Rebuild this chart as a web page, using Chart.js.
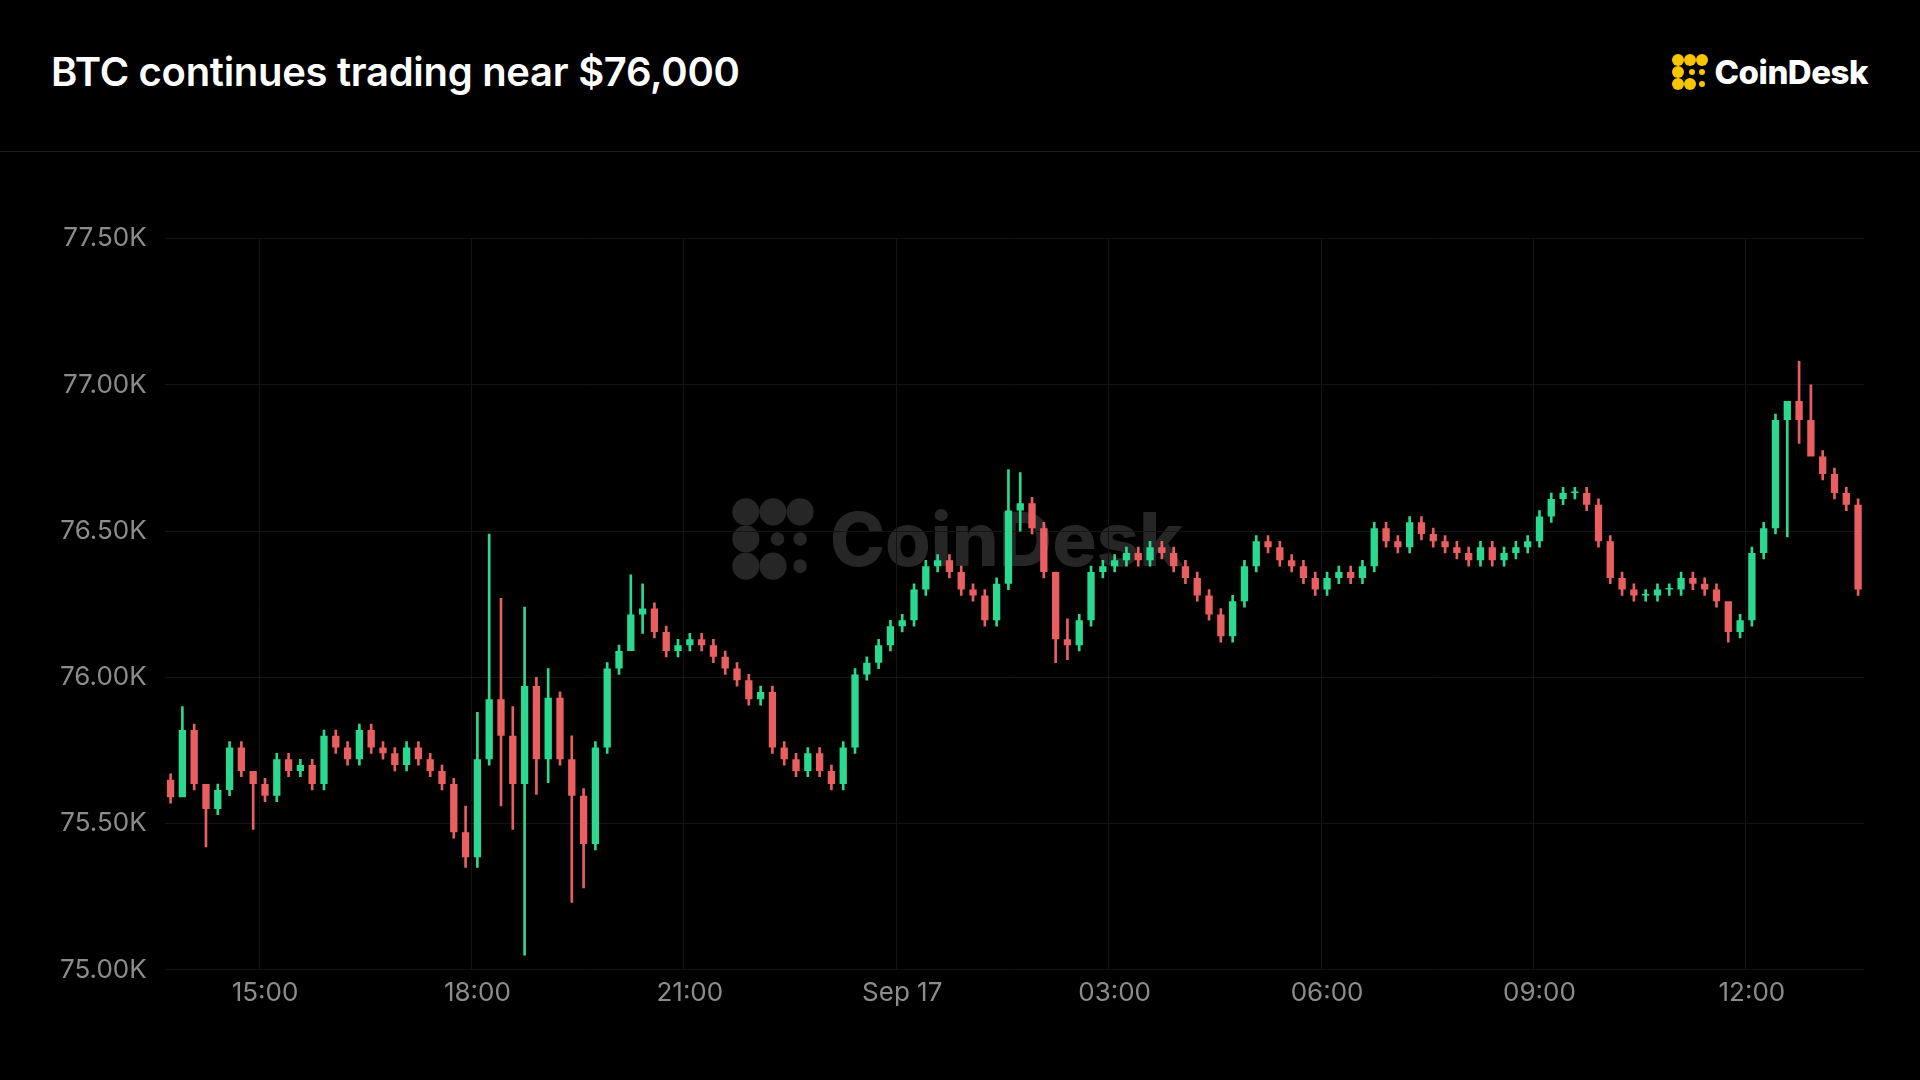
<!DOCTYPE html>
<html><head><meta charset="utf-8">
<script src="https://cdn.jsdelivr.net/npm/chart.js@4"></script>
<style>
html,body{margin:0;background:#000;width:1920px;height:1080px;overflow:hidden;font-family:Inter,"Noto Sans",sans-serif}
#title{position:absolute;left:51px;top:47px;color:#fff;font-size:40px;font-weight:600;letter-spacing:-0.3px}
#logo{position:absolute;right:52px;top:52px;color:#fff;font-size:33px;font-weight:800;display:flex;align-items:center;gap:6px;letter-spacing:-0.5px}
#sep{position:absolute;left:0;right:0;top:151px;height:1px;background:#1c1c1c}
#wm{position:absolute;left:730px;top:494px;color:#262626;font-size:74px;font-weight:800;display:flex;align-items:center;gap:14px;z-index:0}
#wrap{position:absolute;left:42px;top:205px;width:1834px;height:812px;z-index:1}
</style></head><body>
<div id="title">BTC continues trading near $76,000</div>
<div id="logo"><svg width="38" height="38" viewBox="0 0 38 38"><g fill="#f7c600"><circle cx="7" cy="7" r="6"/><circle cx="19" cy="7" r="6"/><circle cx="31" cy="7" r="6"/><circle cx="7" cy="19" r="6"/><circle cx="7" cy="31" r="6"/><circle cx="19" cy="31" r="6"/><circle cx="21" cy="19" r="3"/><circle cx="31" cy="19" r="3"/><circle cx="31" cy="31" r="3"/></g></svg>CoinDesk</div>
<div id="sep"></div>
<div id="wm"><svg width="86" height="86" viewBox="0 0 38 38"><g fill="#262626"><circle cx="7" cy="7" r="6"/><circle cx="19" cy="7" r="6"/><circle cx="31" cy="7" r="6"/><circle cx="7" cy="19" r="6"/><circle cx="7" cy="31" r="6"/><circle cx="19" cy="31" r="6"/><circle cx="21" cy="19" r="3"/><circle cx="31" cy="19" r="3"/><circle cx="31" cy="31" r="3"/></g></svg>CoinDesk</div>
<div id="wrap"><canvas id="c" width="1834" height="812"></canvas></div>
<script>
// 10-minute candles, starting 13:40
const startMinute = 13*60+40;
const closes = [75590,75820,75635,75550,75615,75760,75680,75635,75595,75720,75680,75700,75635,75800,75760,75720,75820,75760,75740,75700,75760,75720,75680,75635,75470,75385,75720,75925,75800,75635,75970,75720,75930,75720,75595,75430,75760,76030,76090,76215,76235,76155,76090,76110,76130,76110,76070,76030,75990,75925,75950,75760,75720,75680,75740,75680,75635,75760,76010,76050,76110,76175,76195,76300,76380,76400,76360,76300,76280,76195,76320,76570,76595,76510,76360,76130,76110,76195,76360,76380,76400,76425,76400,76445,76425,76380,76340,76280,76215,76140,76260,76380,76465,76445,76400,76380,76340,76300,76340,76360,76340,76380,76510,76465,76445,76530,76490,76465,76445,76425,76400,76445,76400,76425,76445,76465,76550,76610,76630,76630,76590,76465,76340,76300,76280,76280,76300,76300,76340,76320,76300,76260,76155,76195,76425,76510,76880,76945,76880,76755,76695,76630,76590,76300];
const firstOpen = 75650;
// notable wick extremes: index -> [high, low]
const wickExtremes = {1:[75900,75700],3:[75620,75420],7:[75660,75480],25:[75560,75350],26:[75880,75350],27:[76490,75700],28:[76270,75560],29:[75900,75480],30:[76240,75050],31:[76000,75600],32:[76030,75640],34:[75800,75230],35:[75620,75280],39:[76350,76100],40:[76320,76150],71:[76710,76300],72:[76700,76500],75:[76360,76050],76:[76200,76060],132:[76250,76120],137:[76900,76480],138:[77080,76800],139:[77000,76800],145:[76500,76270]};
const tickHours = ['15:00','18:00','21:00','Sep 17','03:00','06:00','09:00','12:00'];
const yTicks = [75000,75500,76000,76500,77000,77500];

const labels=[],bodies=[],wicks=[],cols=[];
closes.forEach((c,i)=>{
  const m=(startMinute+i*10)%1440;
  const hh=String(Math.floor(m/60)).padStart(2,'0'), mm=String(m%60).padStart(2,'0');
  let lab=hh+':'+mm; if(lab==='00:00') lab='Sep 17';
  labels.push(lab);
  const o=i===0?firstOpen:closes[i-1];
  bodies.push([o,c===o?c+5:c]);
  const w=wickExtremes[i]||[Math.max(o,c)+20,Math.min(o,c)-20];
  wicks.push([w[1],w[0]]);
  cols.push(c>=o?'#2ad88f':'#e95f5f');
});
const isTick=l=>tickHours.includes(l);
new Chart(document.getElementById('c'),{
  type:'bar',
  data:{labels,datasets:[
    {data:wicks,backgroundColor:cols,barThickness:2,grouped:false,order:2},
    {data:bodies,backgroundColor:cols,barPercentage:0.62,categoryPercentage:1,grouped:false,order:1}
  ]},
  options:{responsive:false,animation:false,maintainAspectRatio:false,
    layout:{padding:{right:12,top:10}},
    plugins:{legend:{display:false},tooltip:{enabled:false}},
    scales:{
      x:{grid:{color:c=>isTick(labels[c.index]||'')?'#141414':'rgba(0,0,0,0)',drawTicks:false},border:{display:false},
        ticks:{autoSkip:false,maxRotation:0,color:'#8c8c8c',font:{size:26,family:'Inter'},padding:8,
          callback:(v,i)=>isTick(labels[i])?labels[i]:''}},
      y:{min:yTicks[0],max:yTicks[yTicks.length-1],afterBuildTicks:a=>{a.ticks=yTicks.map(v=>({value:v}))},
        grid:{color:'#141414',drawTicks:false},border:{display:false},
        ticks:{color:'#8c8c8c',font:{size:26,family:'Inter'},padding:18,callback:v=>(v/1000).toFixed(2)+'K'}}
    }}
});
</script>
</body></html>
